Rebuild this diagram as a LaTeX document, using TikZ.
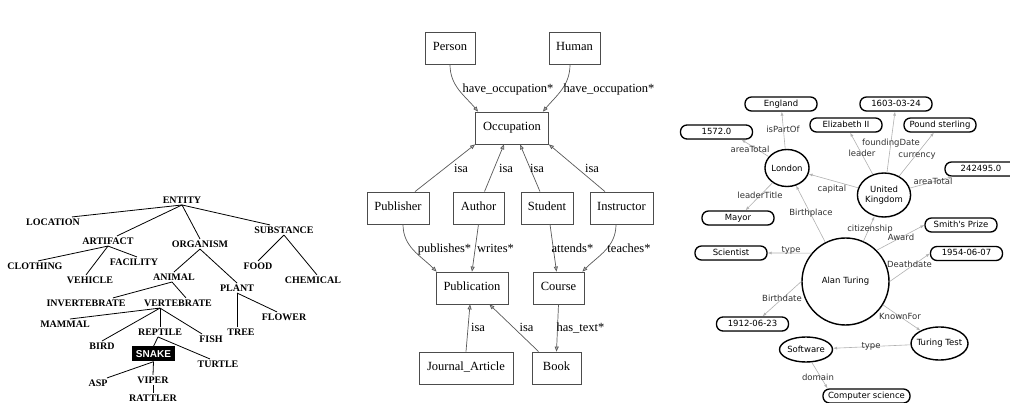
\documentclass[tikz,border=0pt]{standalone}
\usepackage{fontspec}
\setmainfont{Liberation Serif}
\newfontfamily\rdffont{DejaVu Sans}
\newfontfamily\markfont{Liberation Sans}
\usetikzlibrary{positioning, shapes.geometric, arrows.meta, shadows}

\begin{document}
\begin{tikzpicture}[x = 1pt, y = -1pt,
		word/.style={inner sep = 1.5pt, font = \fontsize{10}{12}\selectfont\bfseries},
		highlight/.style={rectangle, fill = black, text = white, inner sep = 0pt, minimum width = 43pt, minimum height = 15pt, font = \markfont\fontsize{10}{12}\selectfont\bfseries},
		branch/.style={line width = 0.8pt},
		class/.style={rectangle, draw = black!70, line width = 0.8pt, inner sep = 0pt, minimum height = 32pt, text height = 8.5pt, text depth = 2.5pt, font = \fontsize{12.5}{15}\selectfont},
		tag/.style={anchor = base, inner sep = 0pt, font = \fontsize{12.5}{15}\selectfont},
		relation/.style={draw = black!65, line width = 0.7pt, -{Triangle[fill = black!25, length = 5pt, width = 4pt]}},
		literal/.style={rectangle, draw, rounded corners = 6.5pt, line width = 1.3pt, fill = white, inner sep = 0pt, minimum width = 72pt, minimum height = 14pt, text height = 6.2pt, text depth = 1.6pt, drop shadow = {shadow xshift = 0.7pt, shadow yshift = -0.7pt, opacity = 0.3}, font = \rdffont\fontsize{8.5}{10}\selectfont},
		resource/.style={ellipse, draw, line width = 1.4pt, fill = white, inner sep = 0pt, drop shadow = {shadow xshift = 0.7pt, shadow yshift = -0.7pt, opacity = 0.3}, font = \rdffont\fontsize{8.5}{10}\selectfont},
		property/.style={anchor = base, inner sep = 0pt, text = black!80, font = \rdffont\fontsize{8.5}{10}\selectfont},
		link/.style={draw = black!30, line width = 0.6pt, -{Latex[length = 4pt, width = 3pt]}}
	]
	
	\useasboundingbox (0, 0) rectangle (1010, 403);
	\fill[white] (0, 0) rectangle (1010, 403);
	
	\node[word] (entity) at (182, 200) {ENTITY};
	\node[word] (location) at (53, 222) {LOCATION};
	\node[word] (artifact) at (108, 241) {ARTIFACT};
	\node[word] (organism) at (200, 244) {ORGANISM};
	\node[word] (substance) at (284, 230) {SUBSTANCE};
	\node[word] (clothing) at (35, 266) {CLOTHING};
	\node[word] (facility) at (134, 262) {FACILITY};
	\node[word] (vehicle) at (90, 280) {VEHICLE};
	\node[word] (animal) at (174, 277) {ANIMAL};
	\node[word] (plant) at (237, 288) {PLANT};
	\node[word] (food) at (258, 266) {FOOD};
	\node[word] (chemical) at (313, 280) {CHEMICAL};
	\node[word] (invertebrate) at (86, 303) {INVERTEBRATE};
	\node[word] (vertebrate) at (178, 303) {VERTEBRATE};
	\node[word] (mammal) at (65, 324) {MAMMAL};
	\node[word] (flower) at (284, 317) {FLOWER};
	\node[word] (tree) at (241, 332) {TREE};
	\node[word] (reptile) at (160, 332) {REPTILE};
	\node[word] (fish) at (211, 339) {FISH};
	\node[word] (bird) at (102, 346) {BIRD};
	\node[highlight] (snake) at (153.5, 354) {SNAKE};
	\node[word] (turtle) at (218, 364) {TURTLE};
	\node[word] (asp) at (98, 383) {ASP};
	\node[word] (viper) at (153, 380) {VIPER};
	\node[word] (rattler) at (153, 398) {RATTLER};
	
	\draw[branch] (entity.south) -- ([xshift = 19pt]location.north);
	\draw[branch] (entity.south) -- ([xshift = 9pt]artifact.north);
	\draw[branch] (entity.south) -- (organism.north);
	\draw[branch] (entity.south) -- ([xshift = -14pt]substance.north);
	\draw[branch] (artifact.south) -- ([xshift = 3pt]clothing.north);
	\draw[branch] (artifact.south) -- ([xshift = -4pt]vehicle.north);
	\draw[branch] (artifact.south) -- ([xshift = 3pt]facility.north);
	\draw[branch] (organism.south) -- (animal.north);
	\draw[branch] (organism.south) -- (plant.north);
	\draw[branch] (substance.south) -- (food.north);
	\draw[branch] (substance.south) -- ([xshift = 4pt]chemical.north);
	\draw[branch] ([xshift = -2pt]animal.south) -- ([xshift = 27pt]invertebrate.north);
	\draw[branch] ([xshift = -2pt]animal.south) -- ([xshift = 8pt]vertebrate.north);
	\draw[branch] (plant.south) -- ([xshift = -4pt]tree.north);
	\draw[branch] (plant.south) -- ([xshift = -7pt]flower.north);
	\draw[branch] ([xshift = -18pt]vertebrate.south) -- ([xshift = 5pt]mammal.north);
	\draw[branch] ([xshift = -18pt]vertebrate.south) -- (reptile.north);
	\draw[branch] ([xshift = -18pt]vertebrate.south) -- (bird.north);
	\draw[branch] ([xshift = -18pt]vertebrate.south) -- ([xshift = -9pt]fish.north);
	\draw[branch] ([xshift = -2pt]reptile.south) -- (snake.north);
	\draw[branch] ([xshift = -2pt]reptile.south) -- ([xshift = -8pt]turtle.north);
	\draw[branch] (snake.south) -- ([xshift = 9pt]asp.north);
	\draw[branch] (snake.south) -- (viper.north);
	\draw[branch] (viper.south) -- (rattler.north);
	
	\node[class, minimum width = 50pt] (person) at (450, 48) {Person};
	\node[class, minimum width = 51pt] (human) at (574.5, 48) {Human};
	\node[class, minimum width = 73pt] (occupation) at (512, 128) {Occupation};
	\node[class, minimum width = 62pt] (publisher) at (398, 208) {Publisher};
	\node[class, minimum width = 51pt] (author) at (478.5, 208) {Author};
	\node[class, minimum width = 52pt] (student) at (547, 208) {Student};
	\node[class, minimum width = 63pt] (instructor) at (621.5, 208) {Instructor};
	\node[class, minimum width = 72pt] (publication) at (472, 288) {Publication};
	\node[class, minimum width = 51pt] (course) at (558.5, 288) {Course};
	\node[class, minimum width = 94pt] (journal) at (466, 368) {Journal\_Article};
	\node[class, minimum width = 49pt] (book) at (556.5, 368) {Book};
	
	\draw[relation] (person.south) to[out = -90, in = 130] ([xshift = 3pt]occupation.north west);
	\draw[relation] ([xshift = -4.5pt]human.south) to[out = -90, in = 50] ([xshift = -6pt]occupation.north east);
	\draw[relation] ([xshift = 17pt]publisher.north) -- (occupation.south west);
	\draw[relation] ([xshift = 6pt]author.north) -- ([xshift = -8pt]occupation.south);
	\draw[relation] ([xshift = -7pt]student.north) -- ([xshift = 8pt]occupation.south);
	\draw[relation] ([xshift = -16.5pt]instructor.north) -- (occupation.south east);
	\draw[relation] ([xshift = 5pt]publisher.south) to[out = -90, in = 135] ([xshift = 1pt]publication.north west);
	\draw[relation] (author.south) -- (publication.north);
	\draw[relation] ([xshift = 3pt]student.south) -- ([xshift = -2pt]course.north);
	\draw[relation] ([xshift = -5.5pt]instructor.south) to[out = -90, in = 45] ([xshift = -2pt]course.north east);
	\draw[relation] (journal.north) -- ([xshift = -2pt]publication.south);
	\draw[relation] ([xshift = 7pt]book.north west) -- ([xshift = -19pt]publication.south east);
	\draw[relation] (course.south) -- (book.north);
	
	\node[tag] (occPerson) at (508, 92.5) {have\_occupation*};
	\node[tag] (occHuman) at (609, 92.5) {have\_occupation*};
	\node[tag] (isaPublisher) at (461, 172.5) {isa};
	\node[tag] (isaAuthor) at (506, 172.5) {isa};
	\node[tag] (isaStudent) at (537, 172.5) {isa};
	\node[tag] (isaInstructor) at (592, 172.5) {isa};
	\node[tag] (publishes) at (444.5, 252.5) {publishes*};
	\node[tag] (writes) at (495.5, 252.5) {writes*};
	\node[tag] (attends) at (572.5, 252.5) {attends*};
	\node[tag] (teaches) at (629, 252.5) {teaches*};
	\node[tag] (isaJournal) at (478, 331.5) {isa};
	\node[tag] (isaBook) at (526.5, 331.5) {isa};
	\node[tag] (hasText) at (580.5, 331.5) {has\_text*};
	
	\node[literal] (england) at (781, 104) {England};
	\node[literal] (founded) at (896, 104) {1603-03-24};
	\node[literal] (londonArea) at (716.5, 132) {1572.0};
	\node[literal] (elizabeth) at (846, 125) {Elizabeth II};
	\node[literal] (pound) at (940, 125) {Pound sterling};
	\node[literal] (ukArea) at (981, 169) {242495.0};
	\node[literal] (mayor) at (738, 218) {Mayor};
	\node[literal] (prize) at (961, 225) {Smith's Prize};
	\node[literal] (scientist) at (731, 253) {Scientist};
	\node[literal] (died) at (966.5, 253.5) {1954-06-07};
	\node[literal] (born) at (752.5, 324) {1912-06-23};
	\node[literal, minimum width = 87pt] (computing) at (866.5, 396) {Computer science};
	
	\node[resource, minimum width = 44pt, minimum height = 37pt] (london) at (787, 168) {London};
	\node[resource, minimum width = 52pt, minimum height = 44pt, align = center] (uk) at (884, 195) {United\\Kingdom};
	\node[resource, minimum size = 87pt] (turing) at (845.5, 281.5) {Alan Turing};
	\node[resource, inner xsep = -6pt, minimum width = 57pt, minimum height = 33pt] (test) at (939.5, 343.5) {Turing Test};
	\node[resource, minimum width = 52pt, minimum height = 25pt] (software) at (806, 349.5) {Software};
	
	\draw[link] (london) -- (england);
	\draw[link] (london) -- ([xshift = 25pt]londonArea.south);
	\draw[link] (london) -- (mayor);
	\draw[link] (uk) -- (london);
	\draw[link] (uk) -- (elizabeth);
	\draw[link] (uk) -- (founded);
	\draw[link] (uk) -- (pound);
	\draw[link] (uk) -- (ukArea);
	\draw[link] (turing) -- (london);
	\draw[link] (turing) -- (uk);
	\draw[link] (turing.45) -- (prize.west);
	\draw[link] (turing.east) -- (died.west);
	\draw[link] (turing.140) -- (scientist.east);
	\draw[link] (turing.west) -- ([xshift = 10pt]born.north);
	\draw[link] (turing.-32) -- (test);
	\draw[link] (test) -- (software);
	\draw[link] ([xshift = 6pt]software.south) -- ([xshift = -39pt]computing.north);
	
	\node[property] (isPartOf) at (783, 132.8) {isPartOf};
	\node[property] (londonTotal) at (750, 152.8) {areaTotal};
	\node[property] (leaderTitle) at (760, 198.8) {leaderTitle};
	\node[property] (capital) at (832, 191.8) {capital};
	\node[property] (leader) at (862, 156.8) {leader};
	\node[property] (foundingDate) at (891, 145.8) {foundingDate};
	\node[property] (currency) at (917, 157.8) {currency};
	\node[property] (ukTotal) at (933, 184.8) {areaTotal};
	\node[property] (birthplace) at (811, 215.8) {Birthplace};
	\node[property] (citizenship) at (870, 231.8) {citizenship};
	\node[property] (award) at (901, 240.8) {Award};
	\node[property] (deathdate) at (909.5, 267.8) {Deathdate};
	\node[property] (typeScientist) at (791, 252.5) {type};
	\node[property] (birthdate) at (782, 301.8) {Birthdate};
	\node[property] (knownFor) at (900, 319.8) {KnownFor};
	\node[property] (typeSoftware) at (871, 348.5) {type};
	\node[property] (domain) at (818, 380.8) {domain};
	
\end{tikzpicture}
\end{document}
